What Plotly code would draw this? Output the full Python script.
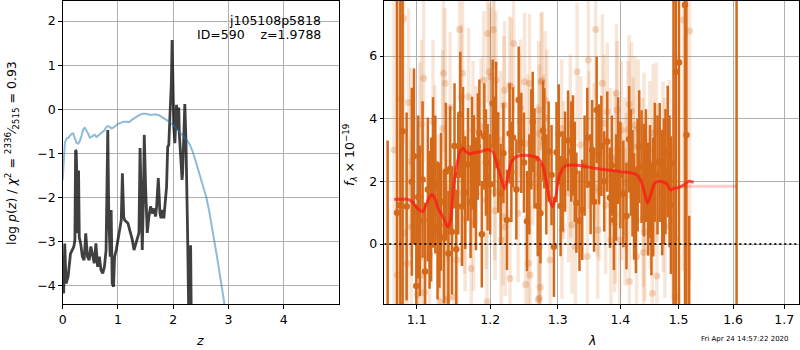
import plotly.graph_objects as go
import math

# ---------------- left panel: redshift fit ----------------
z_pz = [0.000, 0.018, 0.037, 0.061, 0.098, 0.141, 0.172, 0.202, 0.221, 0.233, 0.244, 0.252, 0.264,
        0.287, 0.300, 0.325, 0.356, 0.387, 0.417, 0.448, 0.479, 0.509, 0.540, 0.571, 0.601, 0.632,
        0.663, 0.693, 0.724, 0.755, 0.785, 0.816, 0.834, 0.859, 0.877, 0.896, 0.920, 0.939, 0.969,
        1.000, 1.030, 1.060, 1.080, 1.104, 1.120, 1.150, 1.180, 1.205, 1.230, 1.260, 1.290, 1.320,
        1.350, 1.380, 1.400, 1.420, 1.440, 1.460, 1.476, 1.500, 1.530, 1.560, 1.590, 1.620, 1.650,
        1.680, 1.700, 1.730, 1.760, 1.780, 1.800, 1.830, 1.860, 1.880, 1.900, 1.920, 1.940, 1.966,
        1.980, 1.990, 2.010, 2.030, 2.040, 2.060, 2.080, 2.100, 2.110, 2.140, 2.160, 2.170, 2.190,
        2.210, 2.230, 2.250, 2.260, 2.280, 2.300, 2.315, 2.330, 2.350]
logpz = [-4.10, -4.17, -3.04, -3.95, -3.79, -3.27, -3.19, -3.11, -2.96, -0.92, -0.95, -1.30, -2.81,
         -1.39, -2.90, -3.04, -3.34, -3.42, -2.81, -3.34, -3.42, -3.11, -3.34, -3.49, -3.04, -3.57,
         -3.34, -3.64, -3.72, -3.57, -3.19, -0.47, -2.43, -3.34, -2.28, -3.95, -4.02, -3.34, -3.19,
         -2.96, -2.66, -2.51, -1.45, -2.43, -2.51, -2.55, -2.58, -2.70, -2.80, -2.96, -3.19, -3.05,
         -2.97, -2.80, -0.88, -2.06, -3.19, -2.06, -0.58, -1.75, -2.80, -2.43, -2.20, -2.36, -2.25,
         -2.43, -2.20, -1.56, -2.36, -2.47, -2.28, -2.47, -2.06, -1.75, -0.85, -0.81, -0.17, 0.59,
         1.57, 0.97, -0.39, -0.77, -0.54, 0.10, -0.47, 0.04, -0.54, -1.07, -1.60, -1.45, -0.54,
         0.12, -0.69, -1.75, -2.80, -4.60, -6.00, -3.08, -6.00, -8.00]

z_chi = [0.00, 0.02, 0.04, 0.07, 0.10, 0.13, 0.16, 0.19, 0.22, 0.25, 0.28, 0.31, 0.34, 0.37, 0.40,
         0.43, 0.46, 0.49, 0.52, 0.55, 0.58, 0.61, 0.64, 0.67, 0.70, 0.73, 0.76, 0.79, 0.82, 0.85,
         0.88, 0.91, 0.94, 0.97, 1.00, 1.05, 1.10, 1.15, 1.20, 1.25, 1.30, 1.35, 1.40, 1.45, 1.50,
         1.55, 1.60, 1.65, 1.70, 1.75, 1.80, 1.85, 1.90, 1.95, 2.00, 2.05, 2.10, 2.15, 2.20, 2.25,
         2.30, 2.35, 2.40, 2.45, 2.50, 2.55, 2.60, 2.65, 2.70, 2.75, 2.80, 2.85, 2.90, 2.95]
chi_scaled = [-1.60, -1.00, -0.75, -0.66, -0.65, -0.60, -0.56, -0.55, -0.68, -0.76, -0.78, -0.72,
              -0.60, -0.46, -0.42, -0.48, -0.55, -0.64, -0.62, -0.60, -0.58, -0.63, -0.60, -0.55,
              -0.52, -0.50, -0.47, -0.40, -0.38, -0.40, -0.43, -0.42, -0.38, -0.36, -0.33, -0.30,
              -0.28, -0.28, -0.29, -0.24, -0.19, -0.16, -0.12, -0.10, -0.10, -0.11, -0.13, -0.12,
              -0.12, -0.14, -0.18, -0.22, -0.26, -0.30, -0.36, -0.43, -0.50, -0.56, -0.62, -0.70,
              -0.80, -0.95, -1.15, -1.35, -1.55, -1.75, -2.00, -2.30, -2.65, -3.00, -3.40, -3.80,
              -4.20, -4.60]

z_ticks = [0, 1, 2, 3, 4]
logp_ticks = [-4, -3, -2, -1, 0, 1, 2]

# ---------------- right panel: spectrum ----------------
wave_dark = [1.0628, 1.0747, 1.0789, 1.0818, 1.0937, 1.0995, 1.1041, 1.1077, 1.1110, 1.1146, 1.1169,
             1.1215, 1.1275, 1.1300, 1.1321, 1.1386, 1.1421, 1.1468, 1.1504, 1.1528, 1.1583, 1.1620,
             1.1651, 1.1689, 1.1725, 1.1771, 1.1826, 1.1848, 1.1882, 1.1917, 1.1964, 1.2035, 1.2059,
             1.2084, 1.2241, 1.2280, 1.2329, 1.2378, 1.2412, 1.2451, 1.2535, 1.2599, 1.2647, 1.2697,
             1.2736, 1.2776, 1.2795, 1.2860, 1.2941, 1.2981, 1.3044, 1.3113, 1.3210, 1.3237, 1.3290,
             1.3339, 1.3382, 1.3463, 1.3516, 1.3571, 1.3613, 1.3652, 1.3689, 1.3785, 1.3829, 1.3894,
             1.3963, 1.4102, 1.4147, 1.4203, 1.4261, 1.4317, 1.4356, 1.4397, 1.4470, 1.4525, 1.4583,
             1.4668, 1.4712, 1.4769, 1.4808, 1.4864, 1.4910, 1.4950, 1.5007, 1.5114, 1.5140, 1.5190,
             1.6066,
             1.0870, 1.0965, 1.1020, 1.1190, 1.1245, 1.1360, 1.1445, 1.1555, 1.1605, 1.1745, 1.1800,
             1.1940, 1.2000, 1.2115, 1.2150, 1.2190, 1.2305, 1.2490, 1.2570, 1.2620, 1.2825, 1.2905,
             1.3015, 1.3075, 1.3160, 1.3265, 1.3420, 1.3540, 1.3735, 1.3860, 1.3930, 1.4000, 1.4050,
             1.4175, 1.4230, 1.4290, 1.4430, 1.4500, 1.4555, 1.4630, 1.4740, 1.4840]
flux_dark = [-4.00, 1.00, 1.24, 3.60, 1.99, -1.34, 0.74, 2.06, -0.88, 1.74, 0.77,
             2.28, 0.43, 0.60, 1.35, 2.31, -0.30, 0.39, 3.13, -0.17, 4.14, 3.11,
             1.64, 2.54, 1.35, 2.31, 3.11, 3.55, 0.31, 3.43, 2.13, 4.49, 3.11,
             4.12, 0.77, 3.53, 3.40, 1.74, 4.60, 3.23, 0.73, 3.34, 2.73, 1.21,
             0.98, 3.62, 3.37, 2.95, -0.09, 2.93, 1.21, 2.63, 2.95, 3.15, 1.32,
             0.74, 1.09, 3.39, 1.91, 1.35, 4.28, 2.86, 3.13, 3.27, 1.48, 0.77,
             2.98, 0.89, 3.34, 1.94, 0.77, 3.11, 2.47, 2.04, 1.43, 0.80, 2.61,
             2.60, 1.64, 2.31, 2.95, 1.24, 2.57, 5.50, 5.79, 7.63, 3.48, -3.00,
             -10.00,
             1.20, 2.80, 1.50, 1.10, 1.90, 0.20, 2.40, 2.20, 1.20, 2.90, 1.60,
             2.60, 1.90, 2.60, 1.60, 2.90, 2.30, 2.60, 1.90, 3.90, 1.90, 2.20,
             3.50, 2.00, 3.30, 2.30, 2.50, 3.00, 2.00, 2.50, 1.80, 2.20, 1.60,
             2.60, 1.20, 2.20, 2.50, 2.00, 1.50, 2.20, 2.00, 2.00]
err_dark = [7.3, 9.0, 9.0, 8.0, 3.0, 2.6, 2.4, 2.5, 2.2, 2.3, 2.2,
            2.4, 2.2, 2.0, 2.2, 2.2, 2.0, 2.0, 2.0, 1.9, 2.0, 1.9,
            1.8, 1.8, 1.8, 1.8, 1.7, 1.7, 1.7, 1.7, 1.7, 1.4, 1.6,
            1.7, 1.6, 1.6, 1.6, 1.6, 1.7, 1.6, 1.6, 1.6, 1.6, 1.6,
            1.6, 1.6, 1.6, 1.6, 1.6, 1.6, 1.6, 1.6, 1.6, 1.6, 1.6,
            1.6, 1.6, 1.6, 1.6, 1.6, 1.7, 1.6, 1.6, 1.6, 1.6, 1.6,
            1.7, 1.7, 1.7, 1.7, 1.7, 1.8, 1.8, 1.8, 1.8, 1.8, 1.9,
            1.9, 2.0, 2.0, 2.1, 2.2, 10.0, 9.0, 9.0, 10.0, 6.0, 3.9,
            20.0,
            3.0, 2.8, 2.6, 2.3, 2.2, 2.1, 2.0, 1.9, 1.9, 1.8, 1.8,
            1.7, 1.6, 1.6, 1.6, 1.6, 1.6, 1.6, 1.6, 1.6, 1.6, 1.6,
            1.6, 1.6, 1.6, 1.6, 1.6, 1.6, 1.6, 1.6, 1.7, 1.7, 1.7,
            1.7, 1.7, 1.8, 1.8, 1.8, 1.9, 1.9, 2.0, 2.1]

wave_light = [1.0710, 1.0750, 1.0797, 1.0830, 1.0839, 1.0881, 1.0894, 1.0924, 1.0930, 1.1008, 1.1032,
              1.1041, 1.1063, 1.1077, 1.1091, 1.1100, 1.1169, 1.1215, 1.1238, 1.1284, 1.1307, 1.1344,
              1.1353, 1.1376, 1.1380, 1.1390, 1.1408, 1.1421, 1.1445, 1.1490, 1.1537, 1.1573, 1.1596,
              1.1610, 1.1614, 1.1642, 1.1650, 1.1697, 1.1734, 1.1758, 1.1766, 1.1803, 1.1872, 1.1909,
              1.1941, 1.1955, 1.1964, 1.1986, 1.2010, 1.2044, 1.2059, 1.2065, 1.2070, 1.2084, 1.2147,
              1.2157, 1.2182, 1.2197, 1.2206, 1.2215, 1.2279, 1.2285, 1.2304, 1.2338, 1.2403, 1.2426,
              1.2441, 1.2500, 1.2515, 1.2549, 1.2555, 1.2574, 1.2580, 1.2623, 1.2697, 1.2700, 1.2705,
              1.2712, 1.2718, 1.2721, 1.2725, 1.2735, 1.2746, 1.2760, 1.2785, 1.2809, 1.2834, 1.2882,
              1.3060, 1.3065, 1.3087, 1.3168, 1.3194, 1.3200, 1.3221, 1.3274, 1.3302, 1.3355, 1.3463,
              1.3479, 1.3490, 1.3571, 1.3597, 1.3624, 1.3630, 1.3651, 1.3705, 1.3732, 1.3758, 1.3785,
              1.3839, 1.3845, 1.3903, 1.3910, 1.3915, 1.3935, 1.3947, 1.3990, 1.4017, 1.4022, 1.4075,
              1.4080, 1.4102, 1.4130, 1.4147, 1.4150, 1.4186, 1.4215, 1.4244, 1.4250, 1.4273, 1.4300,
              1.4373, 1.4385, 1.4390, 1.4397, 1.4414, 1.4441, 1.4498, 1.4505, 1.4542, 1.4554, 1.4560,
              1.4610, 1.4615, 1.4620, 1.4724, 1.4730, 1.4753, 1.4760, 1.4837, 1.4893, 1.4939, 1.4950,
              1.5084, 1.5196]
flux_light = [3.00, -1.00, 4.63, 7.20, 0.34, -0.62, 4.52, 2.63, 0.55, -1.63, -0.46,
              3.00, 3.82, -0.99, 5.29, -1.55, -0.35, 3.90, 2.57, 0.98, -1.84, 3.69,
              5.45, 5.13, 0.34, -1.79, 1.83, -1.73, 4.36, -1.68, -0.51, 6.85, 4.70,
              1.62, 5.45, 1.35, 0.79, 4.70, -0.78, 3.64, 0.71, 2.84, 3.74, 5.23,
              1.40, -1.84, 6.72, 5.50, 5.34, 6.85, 5.71, 1.67, 1.06, 5.23, 3.32,
              0.13, 0.87, 4.44, 4.91, 0.55, 5.07, -1.10, 5.02, 6.40, 0.98, 3.90,
              4.33, 5.18, -1.29, 3.21, -0.62, 5.13, -0.99, 2.79, 2.26, 1.83, -1.77,
              4.28, -1.73, 3.53, -0.09, -1.38, 5.18, 5.21, 3.21, 4.60, 4.01, -0.51,
              3.69, 0.45, 2.36, 1.62, 3.85, 2.41, 0.61, -0.09, 5.50, 3.16, -0.40,
              5.87, 3.32, 2.95, 6.85, 1.80, 0.45, 1.67, 5.13, 3.85, 1.24, 4.22,
              2.79, 0.13, 0.66, 2.68, 0.93, 4.81, 4.28, 0.13, 3.64, 1.67, 2.47,
              0.87, 1.99, 3.64, 4.46, -1.20, 4.24, 3.11, 3.80, 1.56, -0.40, 3.69,
              2.47, 0.82, -0.27, 3.27, 0.39, 1.94, 3.00, 1.40, -1.57, 3.55, 1.83,
              3.59, 2.26, -1.02, 2.89, 1.40, 2.36, 0.57, 2.84, 0.71, -1.68, 0.18,
              7.15, 6.80]
err_light = [9.0, 9.0, 4.0, 4.0, 3.2, 3.0, 3.0, 3.0, 2.8, 2.8, 2.8,
             2.8, 2.7, 2.7, 2.7, 2.6, 2.6, 2.6, 2.5, 2.5, 2.5, 2.5,
             2.5, 2.4, 2.4, 2.4, 2.4, 2.4, 2.4, 2.3, 2.3, 2.3, 2.3,
             2.3, 2.3, 2.3, 2.3, 2.2, 2.2, 2.2, 2.2, 2.2, 2.2, 2.2,
             2.2, 2.2, 2.2, 2.2, 2.2, 2.2, 2.2, 2.2, 2.2, 2.2, 2.2,
             2.2, 2.2, 2.2, 2.2, 2.2, 2.2, 2.2, 2.2, 2.2, 2.2, 2.2,
             2.2, 2.2, 2.2, 2.2, 2.2, 2.2, 2.2, 2.2, 2.2, 2.2, 2.2,
             2.2, 2.2, 2.2, 2.2, 2.2, 2.2, 2.2, 2.2, 2.2, 2.2, 2.2,
             2.2, 2.2, 2.2, 2.2, 2.2, 2.2, 2.2, 2.2, 2.2, 2.2, 2.2,
             2.2, 2.2, 2.2, 2.2, 2.2, 2.2, 2.2, 2.2, 2.2, 2.2, 2.2,
             2.2, 2.2, 2.2, 2.2, 2.2, 2.2, 2.2, 2.2, 2.2, 2.2, 2.2,
             2.2, 2.2, 2.2, 2.2, 2.2, 2.2, 2.2, 2.2, 2.2, 2.2, 2.2,
             2.2, 2.2, 2.2, 2.2, 2.2, 2.2, 2.2, 2.2, 2.2, 2.2, 2.2,
             2.2, 2.2, 2.2, 2.3, 2.3, 2.3, 2.3, 2.4, 2.5, 6.0, 6.0,
             8.0, 8.0]

wave_model = [1.071, 1.080, 1.088, 1.094, 1.099, 1.104, 1.108, 1.112, 1.116, 1.120, 1.124, 1.128,
              1.132, 1.136, 1.141, 1.145, 1.149, 1.154, 1.158, 1.162, 1.166, 1.171, 1.178, 1.187,
              1.196, 1.2035, 1.208, 1.215, 1.2206, 1.2256, 1.230, 1.238, 1.248, 1.260, 1.270, 1.277,
              1.282, 1.287, 1.292, 1.297, 1.302, 1.310, 1.320, 1.337, 1.358, 1.380, 1.401, 1.418,
              1.428, 1.435, 1.441, 1.446, 1.452, 1.458, 1.466, 1.478, 1.486, 1.492, 1.500, 1.509,
              1.518, 1.527]
flux_model = [1.43, 1.43, 1.43, 1.35, 1.19, 1.08, 1.03, 1.24, 1.45, 1.58, 1.45, 1.14,
              0.98, 0.80, 0.55, 0.75, 1.83, 2.57, 2.95, 3.05, 2.95, 2.88, 2.92, 2.95,
              3.02, 2.95, 2.68, 2.15, 1.76, 2.15, 2.60, 2.79, 2.83, 2.81, 2.73, 2.52,
              2.04, 1.46, 1.19, 1.51, 2.15, 2.47, 2.52, 2.50, 2.42, 2.36, 2.31, 2.27,
              2.20, 2.00, 1.62, 1.30, 1.62, 1.94, 2.00, 1.94, 1.72, 1.78, 1.80, 1.88,
              2.00, 1.97]
wave_model_ext = [1.500, 1.607]
flux_model_ext = [1.84, 1.84]
wave_zero = [1.04, 1.75]
flux_zero = [0.0, 0.0]
wave_ticks = [1.1, 1.2, 1.3, 1.4, 1.5, 1.6, 1.7]
flux_ticks = [0, 2, 4, 6]

FONT = "DejaVu Sans"
FS = 12.5
W, H = 800, 350
ORANGE = "#d4691a"

def px(xp):
    return xp / W

def py(yp):
    return 1 - yp / H

fig = go.Figure()

# left panel
fig.add_trace(go.Scatter(x=z_pz, y=logpz, mode="lines", xaxis="x", yaxis="y",
                         line=dict(color="rgba(0,0,0,0.75)", width=2.8), showlegend=False,
                         hoverinfo="skip"))
fig.add_trace(go.Scatter(x=z_chi, y=chi_scaled, mode="lines", xaxis="x", yaxis="y",
                         line=dict(color="rgba(31,119,180,0.5)", width=2), showlegend=False,
                         hoverinfo="skip"))

# right panel
fig.add_trace(go.Scatter(x=wave_light, y=flux_light, mode="markers", xaxis="x2", yaxis="y2",
                         marker=dict(color="rgba(212,105,26,0.25)", size=7, line=dict(width=0)),
                         error_y=dict(type="data", array=err_light, visible=True, width=0,
                                      thickness=3.5, color="rgba(212,105,26,0.17)"),
                         showlegend=False, hoverinfo="skip"))
fig.add_trace(go.Scatter(x=wave_dark, y=flux_dark, mode="markers", xaxis="x2", yaxis="y2",
                         marker=dict(color=ORANGE, size=6.5, line=dict(width=0)),
                         error_y=dict(type="data", array=err_dark, visible=True, width=0,
                                      thickness=2.5, color=ORANGE),
                         showlegend=False, hoverinfo="skip"))
fig.add_trace(go.Scatter(x=wave_model_ext, y=flux_model_ext, mode="lines", xaxis="x2", yaxis="y2",
                         line=dict(color="rgba(255,0,0,0.2)", width=3), showlegend=False,
                         hoverinfo="skip"))
fig.add_trace(go.Scatter(x=wave_model, y=flux_model, mode="lines", xaxis="x2", yaxis="y2",
                         line=dict(color="rgba(255,20,20,0.7)", width=3, shape="spline", smoothing=0.6),
                         showlegend=False, hoverinfo="skip"))
fig.add_trace(go.Scatter(x=wave_zero, y=flux_zero, mode="lines", xaxis="x2", yaxis="y2",
                         line=dict(color="rgba(0,0,0,0.85)", width=2, dash="2px,3px"),
                         showlegend=False, hoverinfo="skip"))

ax_common = dict(showline=True, mirror=True, linecolor="black", linewidth=1,
                 ticks="outside", ticklen=3.5, tickwidth=0.8, tickcolor="black",
                 showgrid=True, gridcolor="#b0b0b0", gridwidth=1, zeroline=False,
                 tickfont=dict(family=FONT, size=FS, color="black"))

y_dom = [(H - 304) / H, (H - 1) / H]

fig.update_layout(
    width=W, height=H, margin=dict(l=0, r=0, t=0, b=0, autoexpand=False),
    paper_bgcolor="white", plot_bgcolor="white", showlegend=False,
    xaxis=dict(domain=[62.7 / W, 339 / W], range=[0, 5.0], tickvals=z_ticks,
               anchor="y", **ax_common),
    yaxis=dict(domain=y_dom, range=[-4.413, 2.455], tickvals=logp_ticks,
               anchor="x", **ax_common),
    xaxis2=dict(domain=[384.3 / W, 799.3 / W], type="log",
                range=[math.log10(1.0586), math.log10(1.7305)],
                tickvals=wave_ticks, ticktext=[f"{v:.1f}" for v in wave_ticks],
                anchor="y2", **ax_common),
    yaxis2=dict(domain=y_dom, range=[-1.915, 7.756], tickvals=flux_ticks,
                anchor="x2", **ax_common),
)

ann_font = dict(family=FONT, size=FS, color="black")
annotations = [
    dict(x=px(323), y=py(20), text="j105108p5818", xanchor="right", yanchor="middle"),
    dict(x=px(323), y=py(34.5), text="ID=590    z=1.9788", xanchor="right", yanchor="middle"),
    dict(x=px(200), y=py(340), text="<i>z</i>", xanchor="center", yanchor="middle"),
    dict(x=px(591.7), y=py(340), text="<i>λ</i>", xanchor="center", yanchor="middle"),
    dict(x=px(12), y=py(153), textangle=-90, xanchor="center", yanchor="middle",
         text="log <i>p</i>(<i>z</i>) / <i>χ</i><sup>2</sup> = <sup>2336</sup>⁄<sub>2515</sub> = 0.93"),
    dict(x=px(350), y=py(155), textangle=-90, xanchor="center", yanchor="middle",
         text="<i>f</i><sub><i>λ</i></sub> × 10<sup>−19</sup>"),
]
for a in annotations:
    a.update(xref="paper", yref="paper", showarrow=False, font=ann_font)
annotations.append(dict(x=px(745), y=py(339), xref="paper", yref="paper", showarrow=False,
                        text="Fri Apr 24 14:57:22 2020", xanchor="center", yanchor="middle",
                        font=dict(family=FONT, size=7, color="black")))
fig.update_layout(annotations=annotations)

fig.write_html("out.html", config={"displayModeBar": False},
               post_script="document.body.style.margin='0';document.body.style.padding='0';")
